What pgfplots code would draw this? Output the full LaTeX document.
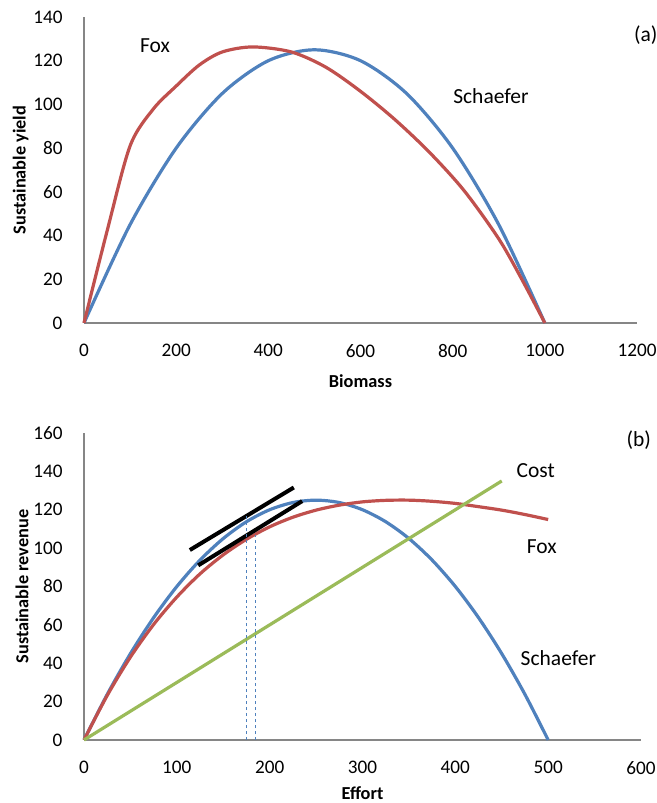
\documentclass[border=0pt]{standalone}
\usepackage{pgfplots}
\pgfplotsset{compat=1.18}
\usepackage{fontspec}
\setmainfont{Carlito}

\definecolor{xlblue}{HTML}{4F81BD}
\definecolor{xlred}{HTML}{C0504D}
\definecolor{xlgreen}{HTML}{9BBB59}
\definecolor{xlaxis}{HTML}{868686}

\tikzset{note/.style={font=\fontsize{21.5bp}{25bp}\selectfont, anchor=center}}

\pgfplotsset{
  panel/.style={
    scale only axis,
    anchor=south west,
    axis x line=bottom,
    axis y line=left,
    axis line style={-, xlaxis, line width=1.2bp},
    major tick length=0pt,
    tick style={draw=none},
    clip=false,
    /pgf/number format/assume math mode=true,
    /pgf/number format/1000 sep={},
    ticklabel style={font=\fontsize{19.2bp}{23bp}\selectfont, text=black},
    xticklabel style={yshift=-18bp},
    yticklabel style={xshift=-18bp},
    label style={font=\bfseries\fontsize{18.3bp}{22bp}\selectfont},
    every axis plot/.append style={line width=3.2bp, line join=round},
  },
}

\begin{document}
\begin{tikzpicture}[x=1bp,y=1bp]
\useasboundingbox (0,0) rectangle (657,803);

% (a) sustainable yield against biomass
\begin{axis}[panel,
  at={(84bp,480bp)},
  width=553bp, height=306bp,
  xmin=0, xmax=1200, ymin=0, ymax=140,
  xtick={0,200,...,1200}, ytick={0,20,...,140},
  xlabel={Biomass}, ylabel={Sustainable yield},
  xlabel style={yshift=-10bp},
  ylabel style={yshift=-2bp},
]
\addplot[xlblue, smooth] coordinates {
  (0,0) (100,45) (200,80) (300,105) (400,120) (500,125)
  (600,120) (700,105) (800,80) (900,45) (1000,0)};
\addplot[xlred, smooth] coordinates {
  (0,0) (50,42) (100,81) (150,97.8) (200,108.4) (250,118) (300,124)
  (366,126.3) (450,124) (525,117) (600,106) (675,93) (750,78)
  (825,60.5) (900,38.5) (950,20) (1000,0)};
\node[note] at (axis cs:154,126.7) {Fox};
\node[note] at (axis cs:883,104) {Schaefer};
\node[note] at (axis cs:1219,131.7) {(a)};
\end{axis}

% (b) sustainable revenue and cost against effort
\begin{axis}[panel,
  at={(84bp,63bp)},
  width=557bp, height=307bp,
  xmin=0, xmax=600, ymin=0, ymax=160,
  xtick={0,100,...,600}, ytick={0,20,...,160},
  xlabel={Effort}, ylabel={Sustainable revenue},
  xlabel style={yshift=-5bp},
  ylabel style={yshift=-2bp},
]
\addplot[xlblue, smooth] coordinates {
  (0,0) (25,23.75) (50,45) (75,63.75) (100,80) (125,93.75) (150,105)
  (175,113.75) (200,120) (225,123.75) (250,125) (275,123.75) (300,120)
  (325,113.75) (350,105) (375,93.75) (400,80) (425,63.75) (450,45)
  (475,23.75) (500,0)};
\addplot[xlred, smooth] coordinates {
  (0,0) (25,23.2) (50,43.2) (75,60.2) (100,74.5) (125,86.6) (150,96.5)
  (175,104.6) (200,111.1) (225,116.1) (250,119.8) (275,122.4) (300,124.1)
  (325,124.9) (350,125.0) (375,124.4) (400,123.3) (425,121.6) (450,119.8)
  (475,117.5) (500,114.9)};
\addplot[xlgreen] coordinates {(0,0) (450,135)};
\addplot[black, line width=4bp, line cap=butt] coordinates {(114,99) (226,131.6)};
\addplot[black, line width=4bp, line cap=butt] coordinates {(123,91) (235,124.5)};
\addplot[xlblue, line width=1bp, dashed] coordinates {(175,0) (175,117)};
\addplot[xlblue, line width=1bp, dashed] coordinates {(185,0) (185,107)};
\node[note] at (axis cs:597.6,156.5) {(b)};
\node[note] at (axis cs:486.5,140.5) {Cost};
\node[note] at (axis cs:493,100.8) {Fox};
\node[note] at (axis cs:511,42.6) {Schaefer};
\end{axis}
\end{tikzpicture}
\end{document}
